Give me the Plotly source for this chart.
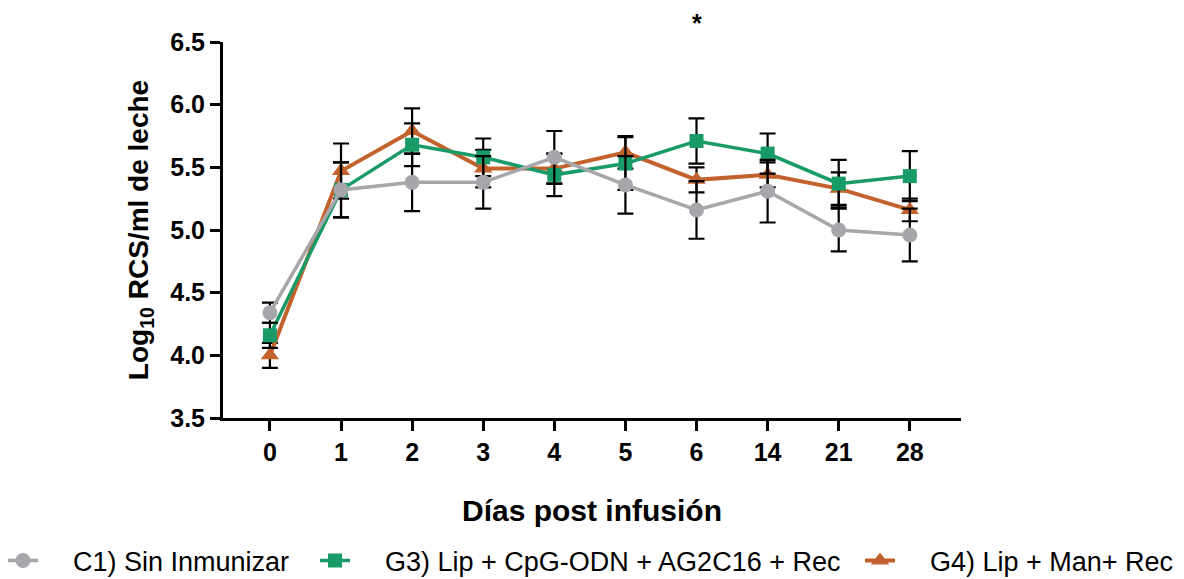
import plotly.graph_objects as go

dias = ["0", "1", "2", "3", "4", "5", "6", "14", "21", "28"]

c1_media = [4.34, 5.32, 5.38, 5.38, 5.58, 5.36, 5.16, 5.31, 5.00, 4.96]
c1_error = [0.08, 0.22, 0.23, 0.21, 0.21, 0.23, 0.23, 0.25, 0.17, 0.21]

g3_media = [4.16, 5.32, 5.68, 5.58, 5.44, 5.53, 5.71, 5.61, 5.37, 5.43]
g3_error = [0.10, 0.22, 0.17, 0.15, 0.17, 0.21, 0.18, 0.16, 0.19, 0.20]

g4_media = [4.00, 5.47, 5.79, 5.49, 5.49, 5.62, 5.40, 5.44, 5.33, 5.16]
g4_error = [0.10, 0.22, 0.18, 0.15, 0.12, 0.13, 0.10, 0.10, 0.13, 0.09]

nombres = ["C1) Sin Inmunizar", "G3) Lip + CpG-ODN + AG2C16 + Rec", "G4) Lip + Man+ Rec"]

gris = "#A7A7AB"
verde = "#199B68"
naranja = "#C4622D"

FONT = "Liberation Sans, Arial, sans-serif"
PAD = "\u00a0" * 4

fig = go.Figure()

def err(vals):
    return dict(type="data", array=vals, visible=True, color="black", thickness=2.2, width=8)

fig.add_trace(go.Scatter(
    x=dias, y=g4_media, name=PAD + nombres[2], mode="lines+markers",
    line=dict(color=naranja, width=4),
    marker=dict(symbol="triangle-up", size=16, color=naranja),
    error_y=err(g4_error), legend="legend3"))
fig.add_trace(go.Scatter(
    x=dias, y=g3_media, name=PAD + nombres[1], mode="lines+markers",
    line=dict(color=verde, width=3.5),
    marker=dict(symbol="square", size=14, color=verde),
    error_y=err(g3_error), legend="legend2"))
fig.add_trace(go.Scatter(
    x=dias, y=c1_media, name=PAD + nombres[0], mode="lines+markers",
    line=dict(color=gris, width=3.5),
    marker=dict(symbol="circle", size=15, color=gris),
    error_y=err(c1_error), legend="legend"))

fig.add_annotation(x="6", y=(418 - 7) / 376, xref="x", yref="paper", text="<b>*</b>",
                   showarrow=False, font=dict(size=25, color="black", family=FONT))

PW = 961 - 223
def lx(px):
    return (px - 223) / PW

leg_common = dict(orientation="h", xanchor="left", yanchor="middle", y=(418 - 561) / 376,
                  font=dict(size=27, color="black", family=FONT), bgcolor="rgba(0,0,0,0)")

fig.update_layout(
    width=1184, height=579,
    margin=dict(l=223, r=223, t=42, b=161, autoexpand=False),
    plot_bgcolor="white", paper_bgcolor="white",
    font=dict(family=FONT, color="black"),
    showlegend=True,
    legend=dict(x=lx(3), **leg_common),
    legend2=dict(x=lx(315), **leg_common),
    legend3=dict(x=lx(860), **leg_common),
)

fig.update_xaxes(
    type="category", categoryorder="array", categoryarray=dias,
    range=[-0.66, 9.72], automargin=False,
    showline=True, linecolor="black", linewidth=3,
    ticks="outside", ticklen=10, tickwidth=3, tickcolor="black",
    tickfont=dict(size=25, family=FONT, color="black", weight="bold"),
    showgrid=False, zeroline=False,
    title=dict(text="<b>Días post infusión</b>", font=dict(size=30, family=FONT), standoff=35),
)
fig.update_yaxes(
    range=[3.5, 6.5], tickvals=[3.5, 4.0, 4.5, 5.0, 5.5, 6.0, 6.5],
    ticktext=["3.5", "4.0", "4.5", "5.0", "5.5", "6.0", "6.5"], automargin=False,
    showline=True, linecolor="black", linewidth=3,
    ticks="outside", ticklen=10, tickwidth=3, tickcolor="black",
    tickfont=dict(size=25, family=FONT, color="black", weight="bold"),
    showgrid=False, zeroline=False,
    title=dict(text="<b>Log<sub>10</sub> RCS/ml de leche</b>", font=dict(size=28, family=FONT), standoff=14),
)

fig.write_html("out.html")
